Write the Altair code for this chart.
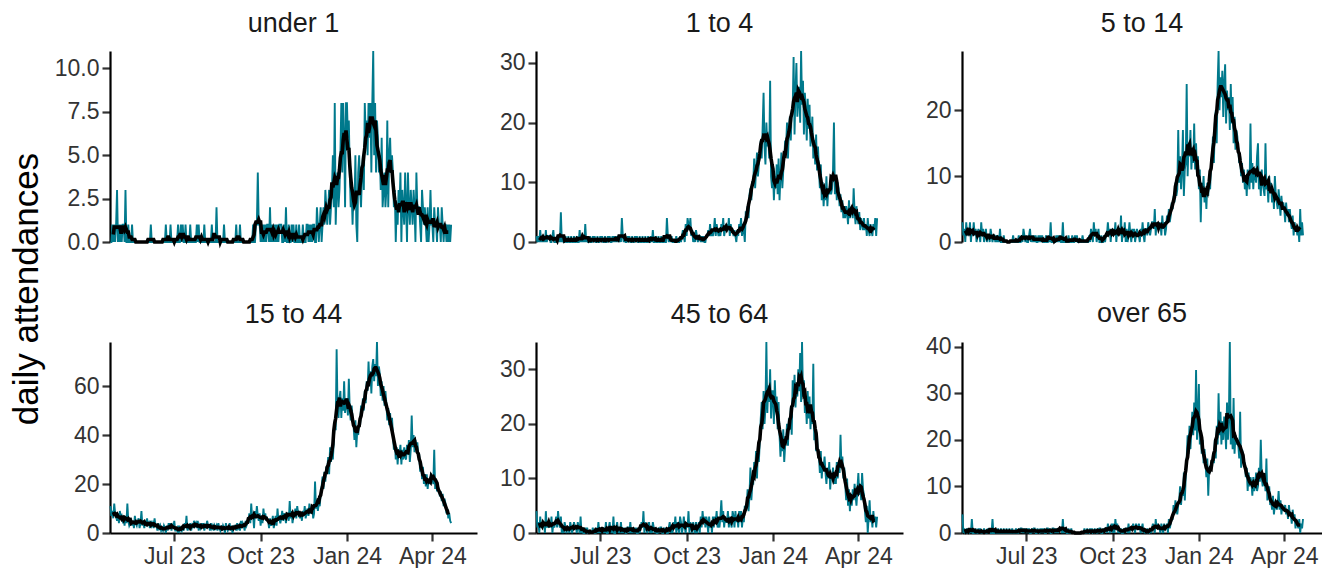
import altair as alt
import pandas as pd

FONT = "Liberation Sans"
TEAL = "#00798c"

GROUPS = ["under 1", "1 to 4", "5 to 14", "15 to 44", "45 to 64", "over 65"]

# daily attendances, 24 Apr 2023 .. 21 Apr 2024 (one row = 4 weeks)
under1 = [
    0,0,1,0,1,0,1, 3,0,1,0,1,0,1, 1,0,3,0,0,1,0, 0,0,1,0,0,0,0,
    0,0,0,0,0,0,0, 0,0,0,0,0,0,0, 0,1,0,0,0,0,0, 0,0,0,0,0,0,0,
    0,0,0,1,0,0,0, 0,1,0,0,0,0,0, 0,0,1,0,0,1,0, 1,0,0,1,0,0,0,
    0,1,0,0,0,0,0, 0,1,0,1,0,0,0, 0,0,1,0,0,0,0, 0,0,0,1,0,0,0,
    0,2,0,0,0,0,0, 0,0,1,0,0,0,0, 0,0,0,0,0,0,0, 0,1,0,0,0,1,0,
    0,0,0,0,0,0,0, 0,0,0,0,0,1,0, 0,1,1,4,1,1,0, 1,0,1,0,1,0,1,
    1,0,2,0,1,0,1, 0,1,0,1,0,1,1, 1,0,0,1,0,2,0, 0,1,0,0,1,0,1,
    0,0,1,0,0,1,0, 0,0,1,0,0,0,1, 1,0,1,0,1,0,1, 1,0,0,2,1,0,1,
    2,0,1,2,1,3,2, 1,2,3,1,2,3,5, 2,8,1,3,4,2,3, 5,8,4,8,6,2,8,
    8,6,7,4,2,3,1, 3,2,5,1,0,4,5, 3,2,4,5,3,8,6, 7,5,8,6,8,4,8,
    11,5,8,4,7,6,4, 5,3,6,2,3,4,2, 3,7,2,5,6,4,5, 4,2,3,0,2,1,3,
    2,4,0,3,2,1,4, 2,0,4,2,1,3,2, 1,3,2,0,4,2,2, 2,1,0,3,2,1,2,
    1,0,2,0,1,3,1, 1,0,2,1,1,0,2, 1,1,0,2,1,0,1, 1,0,1,0,1,0,1,
]
age1to4 = [
    1,0,1,0,2,0,1, 0,1,0,2,0,1,1, 1,0,0,1,2,0,0, 0,1,0,1,0,5,0,
    1,0,0,1,0,0,1, 0,0,1,0,0,1,0, 0,1,0,0,2,0,1, 0,1,0,3,0,1,0,
    0,1,0,0,1,0,1, 0,0,1,0,0,1,0, 1,0,0,1,0,0,1, 0,1,0,0,1,0,1,
    0,1,0,1,0,1,0, 4,1,0,1,0,0,1, 0,1,0,0,1,0,0, 1,0,1,0,0,1,0,
    0,1,0,0,1,0,0, 1,0,0,1,0,2,0, 0,1,0,0,1,0,0, 1,0,0,1,0,0,4,
    1,0,1,0,1,0,0, 0,0,1,0,0,0,1, 0,1,2,1,0,3,1, 4,3,2,4,1,2,0,
    1,0,2,1,0,1,1, 0,1,0,1,0,0,1, 1,2,1,3,1,2,1, 2,4,1,3,2,1,2,
    1,3,2,4,1,2,2, 3,2,4,1,3,2,2, 1,2,1,0,2,1,3, 2,4,1,3,2,0,5,
    5,6,4,8,9,7,10, 10,14,9,12,15,11,13, 15,17,14,19,25,16,13, 20,16,18,14,27,11,9,
    12,7,11,9,13,8,14, 7,11,15,9,12,14,17, 16,20,14,19,21,17,22, 22,31,18,25,30,21,24,
    26,20,32,23,27,18,25, 22,17,24,19,23,16,18, 21,14,17,13,18,12,16, 12,9,13,7,10,6,9,
    7,11,6,9,8,10,8, 9,12,20,8,11,7,10, 9,6,8,5,7,4,6, 4,6,5,3,7,4,5,
    6,4,9,5,3,6,4, 3,5,2,4,3,2,4, 2,3,1,4,2,1,3, 2,1,3,2,4,1,4,
]
age5to14 = [
    3,1,2,0,3,1,2, 1,3,0,2,1,3,1, 2,0,1,2,1,0,3, 1,2,0,1,2,0,1,
    1,0,2,1,0,1,1, 0,1,0,1,0,2,0, 0,0,1,0,0,0,0, 0,0,0,0,0,1,0,
    0,0,0,0,1,0,0, 1,0,2,1,0,1,0, 0,1,2,0,1,0,1, 0,1,0,0,1,0,1,
    0,1,0,0,0,1,0, 0,1,0,3,0,0,0, 0,0,1,0,1,0,1, 0,0,3,0,0,0,0,
    0,1,0,0,0,1,0, 0,1,0,1,0,0,0, 0,0,1,0,0,0,0, 0,0,1,0,2,1,0,
    3,1,2,0,1,2,0, 0,1,0,0,1,0,1, 1,3,1,2,0,2,1, 2,1,3,0,2,1,2,
    1,4,0,2,1,3,0, 2,0,1,3,1,0,2, 1,2,0,1,2,1,1, 0,2,1,3,1,0,2,
    2,1,3,2,1,2,3, 3,2,5,1,3,2,3, 2,3,1,4,2,3,1, 2,4,3,5,3,4,6,
    5,7,6,9,7,8,17, 9,13,8,11,17,7,11, 12,24,10,15,13,17,11, 14,12,18,11,15,10,13,
    8,11,3,9,7,10,6, 8,5,9,7,10,8,12, 13,16,12,18,20,15,24, 29,20,25,22,26,19,24,
    27,18,23,20,22,17,24, 18,22,15,19,14,17,16, 14,12,13,10,12,9,11, 8,10,7,11,9,8,18,
    9,12,8,11,10,9,13, 15,8,10,7,11,9,8, 7,15,8,9,6,10,8, 9,6,8,5,10,7,6,
    5,8,6,4,7,5,6, 5,3,6,4,5,3,5, 3,2,4,1,3,2,2, 1,2,0,5,1,3,1,
]
age15to44 = [
    11,7,9,6,12,8,7, 5,8,4,9,6,7,5, 6,3,7,4,12,5,3, 4,6,3,5,2,7,4,
    3,5,6,2,4,9,3, 5,2,4,3,6,3,4, 2,5,3,4,2,6,3, 3,1,4,2,3,1,2,
    1,3,2,0,3,1,4, 2,4,1,3,2,5,1, 1,2,0,3,1,2,1, 3,1,4,2,7,1,2,
    2,4,1,3,2,5,3, 4,2,5,1,3,2,4, 2,4,1,3,2,5,3, 3,1,4,2,3,1,3,
    2,3,1,4,2,1,3, 1,3,2,0,4,2,1, 2,4,1,3,0,2,3, 3,1,4,2,3,1,5,
    2,4,3,1,5,3,4, 5,8,4,12,6,7,2, 9,6,11,7,5,8,3, 7,4,10,6,8,5,6,
    5,2,6,3,4,7,2, 4,7,3,10,5,6,4, 6,9,5,8,7,4,8, 8,5,13,6,9,4,7,
    7,10,6,11,8,9,6, 8,5,9,7,11,6,8, 10,7,12,8,9,11,6, 8,21,10,13,9,12,11,
    16,19,23,18,25,21,27, 26,31,24,35,29,33,30, 38,46,42,75,50,47,55, 58,47,55,50,62,49,53,
    55,48,63,50,46,52,47, 44,38,46,35,42,40,45, 44,52,48,55,50,58,53, 62,58,70,60,66,57,68,
    71,62,69,64,78,60,68, 65,56,62,54,60,52,58, 53,46,51,44,49,42,47, 40,34,37,30,35,28,34,
    32,36,28,34,30,35,31, 30,36,32,38,29,34,48, 35,40,33,38,34,37,32, 32,25,29,22,27,20,24,
    19,24,18,22,20,23,21, 23,20,34,18,22,17,19, 18,15,17,13,16,11,14, 12,8,10,6,8,5,4,
]
age45to64 = [
    4,1,2,0,3,1,2, 1,2,0,4,1,2,1, 2,1,3,0,2,1,2, 3,1,4,2,1,3,0,
    1,0,2,1,0,1,1, 0,2,1,0,1,2,1, 1,0,2,1,0,3,0, 1,0,0,1,0,1,0,
    0,0,0,0,1,0,0, 0,1,0,2,0,1,0, 1,0,1,0,2,0,0, 1,2,0,1,0,3,0,
    0,1,2,0,1,0,2, 0,1,0,1,0,0,1, 1,0,2,0,1,0,1, 0,1,0,0,1,0,1,
    2,1,4,0,2,1,0, 1,2,0,1,0,2,1, 0,1,0,0,1,0,1, 1,0,0,1,0,1,0,
    0,1,2,0,1,0,2, 1,3,0,2,1,0,3, 2,0,1,3,1,0,2, 1,4,0,2,1,0,2,
    1,0,2,0,1,2,0, 3,1,4,2,3,1,3, 2,0,3,1,2,0,3, 1,3,2,4,1,2,1,
    3,6,2,4,1,3,2, 2,4,1,3,2,1,4, 3,1,4,2,3,1,4, 2,4,1,3,2,5,4,
    5,8,4,7,12,6,9, 9,13,11,15,10,16,13, 17,21,24,19,26,20,23, 35,22,27,24,30,21,26,
    26,20,28,23,25,19,24, 18,14,17,15,19,13,16, 17,20,16,21,19,23,18, 28,24,29,23,27,25,30,
    26,33,24,35,25,28,22, 24,20,26,21,25,19,23, 20,31,17,19,15,18,14, 14,11,15,10,13,12,14,
    11,9,12,10,13,8,11, 10,12,9,11,9,13,10, 13,11,18,12,14,10,12, 9,6,10,5,8,4,7,
    5,8,6,9,7,5,8, 11,7,9,6,11,8,7, 4,2,5,0,3,6,2, 3,1,4,2,3,1,3,
]
over65 = [
    4,0,1,0,0,1,0, 0,1,0,3,0,0,0, 1,0,0,1,0,1,0, 0,0,1,0,0,0,1,
    0,1,0,0,3,0,0, 1,0,0,1,0,0,1, 0,0,1,0,0,1,0, 0,1,0,0,1,0,0,
    0,1,0,0,1,0,1, 1,0,1,0,1,0,1, 0,1,0,0,1,0,1, 1,0,0,1,0,0,1,
    0,1,0,1,0,0,1, 1,0,1,0,0,1,1, 0,1,0,1,0,1,1, 1,0,3,0,1,1,0,
    0,1,0,0,1,0,0, 0,0,0,0,0,0,0, 0,0,0,0,1,0,0, 1,0,0,1,0,1,0,
    0,1,0,0,1,0,1, 1,0,0,1,0,1,1, 0,2,1,0,1,2,0, 2,0,3,1,2,0,1,
    0,1,0,0,1,0,1, 1,0,2,0,1,1,1, 2,1,0,2,1,1,2, 1,0,1,2,0,1,0,
    0,1,0,0,1,0,1, 2,1,0,3,1,2,1, 1,0,2,1,0,2,1, 1,2,0,3,1,2,3,
    3,6,4,7,5,4,6, 7,10,6,9,8,13,7, 12,16,21,17,23,18,22, 26,21,28,22,35,20,25,
    32,19,22,17,20,15,18, 15,12,16,8,14,13,15, 14,17,15,20,16,23,19, 30,21,26,19,24,20,25,
    23,18,28,20,25,41,19, 24,18,29,17,21,19,20, 19,16,26,14,18,17,15, 15,12,14,9,13,10,12,
    11,8,12,9,10,13,9, 10,14,11,20,12,10,11, 12,9,16,7,8,10,6, 7,5,8,4,6,7,5,
    6,9,5,7,4,6,5, 5,6,4,5,3,6,4, 4,2,5,3,4,1,3, 2,1,3,0,2,1,3,
]
SERIES = [under1, age1to4, age5to14, age15to44, age45to64, over65]

Y_TICKS = [[0, 2.5, 5, 7.5, 10], [0, 10, 20, 30], [0, 10, 20],
           [0, 20, 40, 60], [0, 10, 20, 30], [0, 10, 20, 30, 40]]
Y_FORMAT = [".1f", "d", "d", "d", "d", "d"]
X_TICKS = [alt.DateTime(year=2023, month=7, date=1), alt.DateTime(year=2023, month=10, date=1),
           alt.DateTime(year=2024, month=1, date=1), alt.DateTime(year=2024, month=4, date=1)]

DATES = pd.date_range("2023-04-24", periods=364, freq="D")
X_START = alt.DateTime(year=2023, month=4, date=23, hours=12)
X_END = alt.DateTime(year=2024, month=5, date=18, hours=14)
X_END_CLIPPED = alt.DateTime(year=2024, month=5, date=11, hours=6)

axis_style = dict(
    grid=False, domainColor="black", domainWidth=2.2, tickColor="#333333", tickWidth=2.2,
    tickSize=8, labelFont=FONT, labelFontSize=23, labelColor="#333333", title=None,
)


def make_panel(i):
    df = pd.DataFrame({"date": DATES, "value": SERIES[i]})
    sm = df.assign(value=df["value"].rolling(7, center=True).mean()).dropna()
    last_col = (i % 3 == 2)
    xscale = alt.Scale(domain=[X_START, X_END_CLIPPED if last_col else X_END])
    if i >= 3:
        xaxis = alt.Axis(values=X_TICKS, format="%b %y", labelPadding=4, **axis_style)
    else:
        xaxis = None
    yaxis = alt.Axis(values=Y_TICKS[i], format=Y_FORMAT[i], labelPadding=3, **axis_style)
    x = alt.X("date:T", scale=xscale, axis=xaxis)
    y = alt.Y("value:Q", scale=alt.Scale(zero=True, nice=False), axis=yaxis)
    daily = alt.Chart(df).mark_line(color=TEAL, strokeWidth=1.9).encode(x=x, y=y)
    smooth = alt.Chart(sm).mark_line(color="black", strokeWidth=3.6).encode(x=x, y=y)
    return alt.layer(daily, smooth).properties(
        width=360 if last_col else 367,
        height=191,
        title=alt.TitleParams(GROUPS[i], font=FONT, fontSize=27, fontWeight="normal",
                              color="#1a1a1a", anchor="middle", offset=9,
                              dy=1 if i == 5 else 0),
    )


panels = [make_panel(i) for i in range(6)]

chart = alt.concat(
    *panels, columns=3, spacing={"row": 100, "column": 59}, bounds="flush",
    title=alt.TitleParams("daily attendances", orient="left", anchor="middle",
                          font=FONT, fontSize=35, fontWeight="normal", color="black", offset=9),
).properties(
    padding={"left": 10, "top": 10, "right": 0, "bottom": 0},
).configure_view(stroke=None)

chart.save("out.html", embed_options={"renderer": "svg", "actions": False})
